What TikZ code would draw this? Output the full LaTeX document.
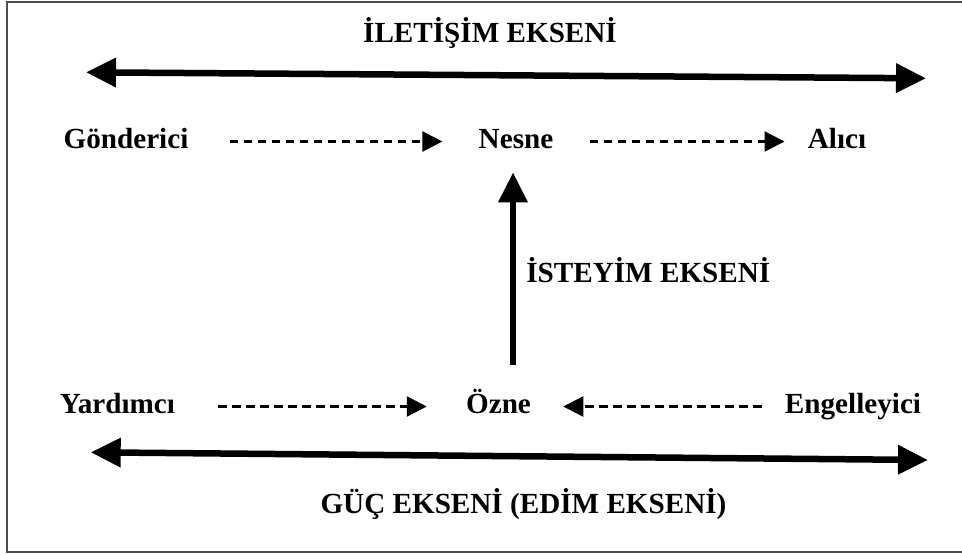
\documentclass[tikz,border=0pt]{standalone}
\usepackage{fontspec}
\setmainfont{Liberation Serif}
\usetikzlibrary{arrows.meta}
\tikzset{
  actant/.style={font=\bfseries\fontsize{16.6}{19}\selectfont, anchor=base, inner sep=0pt,
    text height=0.26cm, text depth=0pt},
  bigtip/.tip={Triangle[length=0.6cm,width=0.56cm]},
  axisline/.style={line width=3.7pt},
  flow/.style={line width=1.35pt, dash pattern=on 0.17cm off 0.11cm, -{Triangle[length=0.4cm,width=0.4cm]}},
}
\begin{document}
\begin{tikzpicture}[x=0.02cm,y=-0.02cm]
  \useasboundingbox (0,0) rectangle (962,554);
  \draw[gray!60!black, line width=1.1pt] (962,2) -- (7,2) -- (7,552) -- (962,552);
  % axis ends
  \coordinate (commL) at (86,72.3);
  \coordinate (commR) at (926,78.3);
  \coordinate (powL) at (90.7,452.3);
  \coordinate (powR) at (928,460);
  % labels
  \node[actant] (comm) at (490,43) {İLETİŞİM EKSENİ};
  \node[actant] (Gonderici) at (126,148) {Gönderici};
  \node[actant] (Nesne) at (516,148) {Nesne};
  \node[actant] (Alici) at (837,148) {Alıcı};
  \node[actant, anchor=base west] (want) at (526,282) {İSTEYİM EKSENİ};
  \node[actant] (Yardimci) at (117.5,413) {Yardımcı};
  \node[actant] (Ozne) at (498.5,413) {Özne};
  \node[actant] (Engelleyici) at (853,413) {Engelleyici};
  \node[actant] (pow) at (523.5,513) {GÜÇ EKSENİ (EDİM EKSENİ)};
  % axes
  \draw[axisline, bigtip-bigtip] (commL) -- (commR);
  \draw[axisline, bigtip-bigtip] (powL) -- (powR);
  \draw[axisline, -bigtip, shorten <=0.7cm, shorten >=0.48cm]
    ([xshift=-0.06cm]Nesne.south |- Ozne.north) -- ([xshift=-0.06cm]Nesne.south);
  % dashed flows
  \draw[flow, shorten <=0.82cm, shorten >=0.72cm] (Gonderici.east) -- (Gonderici.east -| Nesne.west);
  \draw[flow, shorten <=0.72cm, shorten >=0.46cm] (Nesne.east) -- (Nesne.east -| Alici.west);
  \draw[flow, shorten <=0.86cm, shorten >=0.78cm] (Yardimci.east) -- (Yardimci.east -| Ozne.west);
  \draw[flow, shorten <=0.46cm, shorten >=0.64cm] (Engelleyici.west) -- (Engelleyici.west -| Ozne.east);
\end{tikzpicture}
\end{document}
